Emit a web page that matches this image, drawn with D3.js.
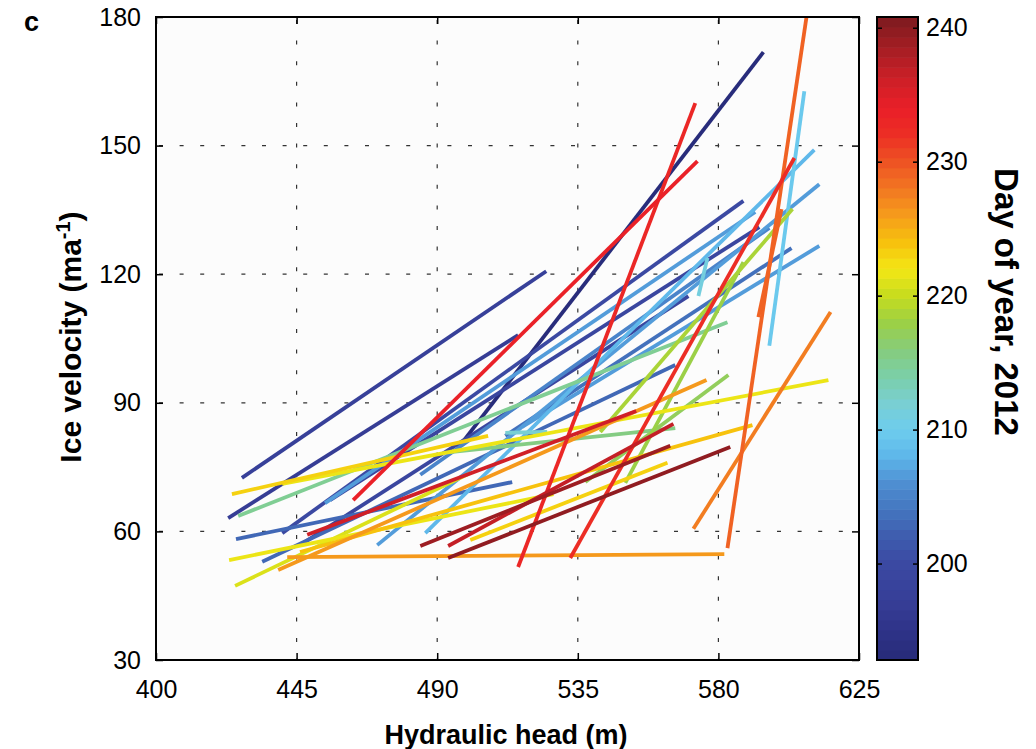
<!DOCTYPE html>
<html><head><meta charset="utf-8">
<script src="https://cdn.jsdelivr.net/npm/d3@7"></script>
<style>body{margin:0;background:#fff;} text{font-family:"Liberation Sans",Arial,Helvetica,sans-serif;fill:#000;}</style>
</head><body><svg id="chart" width="1036" height="749"></svg>
<script>
// ---- data (hydraulic head m, ice velocity m/a, day of year) ----
const headStart = [427.5,423.1,496.7,515.9,463.1,532.6,582.9,592.8,596.3,486.2,470.8,517.2,511.8,542.2,550.2,572.0,442.0,440.4,424.3,446.1,439.1,500.6,423.4,448.4,484.6,493.5,493.5,425.3,426.3,494.2,537.4,440.4,454.1,425.6,455.7,446.1,434.0,573.6,511.8,484.6];
const velStart  = [72.5,63.1,79.5,51.7,67.3,53.8,56.1,110.0,103.3,59.6,56.8,84.4,82.3,83.2,71.3,60.6,54.0,71.1,68.7,55.2,51.0,58.0,53.3,59.2,56.6,53.8,56.6,47.3,63.6,78.5,71.5,59.6,66.6,58.2,67.3,56.8,52.9,114.9,83.0,73.2];
const headEnd   = [524.9,515.9,594.4,572.6,573.3,604.3,608.2,600.2,607.5,610.7,612.3,612.3,603.4,603.7,588.0,615.9,581.9,615.2,506.3,590.9,576.2,563.7,527.2,553.7,564.6,583.8,565.6,500.6,582.9,566.2,583.2,588.0,591.8,514.0,593.1,570.4,566.2,576.5,525.2,596.3];
const velEnd    = [120.7,105.8,171.8,159.9,146.4,147.1,180.0,135.2,162.7,149.0,141.0,126.6,126.1,135.2,122.8,111.2,54.7,95.3,82.3,84.8,95.3,76.0,68.7,88.1,80.0,79.7,85.1,73.6,108.8,84.1,96.5,137.1,134.5,71.5,131.0,114.9,98.8,123.8,83.2,130.8];
const dayOfYear = [198,197,193,233,234,232,229,229,210,208,207,207,204,219,218,228,226,222,223,224,226,223,222,236,239,240,237,221,215,216,217,200,207,203,199,199,203,211,212,205];

const xTicks = [400,445,490,535,580,625];
const yTicks = [30,60,90,120,150,180];
const cTicks = [200,210,220,230,240];
const xGrid = [445,490,535,580];
const yGrid = [60,90,120,150];

// colormap anchors (day -> colour)
const cmapDays   = [192.8,195,197,200,202,204,206,208,210,212,214,216,218,220,222,224,226,228,230,232,234,236,238,240.8];
const cmapColors = ["#272a78","#2e3388","#363d96","#3b49a2","#3e5cae","#4475bf","#4e8fd2","#5eb6ea","#6dcdee","#79cfd2","#7bcfa8","#86cc7c","#9cd045","#c6dc1e","#f3e715","#f7c10d","#f59c1b","#f27722","#ee5323","#ec2e25","#ea1f28","#cf1f27","#ad1e24","#7c1a1f"];

// ---- layout ----
const L=156,R=859,T=17,B=660;
const svg=d3.select("#chart");
const x=d3.scaleLinear().domain([400,625]).range([L,R]);
const y=d3.scaleLinear().domain([30,180]).range([B,T]);
const cDom=[192.8,240.8];
const cy=d3.scaleLinear().domain(cDom).range([B,T]);
const cont=d3.scaleLinear().domain(cmapDays).range(cmapColors).interpolate(d3.interpolateRgb).clamp(true);
const N=64;
const levelColor=i=>cont(cDom[0]+(i+0.5)*(cDom[1]-cDom[0])/N);
const colorOf=d=>{let i=Math.floor((d-cDom[0])/(cDom[1]-cDom[0])*N);i=Math.max(0,Math.min(N-1,i));return levelColor(i);};

svg.append("rect").attr("x",L).attr("y",T).attr("width",R-L).attr("height",B-T).attr("fill","#fcfcfc");

// grid
const dash="4,16.6";
svg.append("g").selectAll("line").data(xGrid).join("line")
  .attr("x1",d=>x(d)).attr("x2",d=>x(d)).attr("y1",T+3).attr("y2",B)
  .attr("stroke","#333").attr("stroke-width",1.2).attr("stroke-dasharray",dash);
svg.append("g").selectAll("line").data(yGrid).join("line")
  .attr("y1",d=>y(d)).attr("y2",d=>y(d)).attr("x1",L+3).attr("x2",R)
  .attr("stroke","#333").attr("stroke-width",1.2).attr("stroke-dasharray",dash);

// segments
const segs=headStart.map((h,i)=>({x1:h,y1:velStart[i],x2:headEnd[i],y2:velEnd[i],day:dayOfYear[i]}))
  .sort((a,b)=>a.day-b.day);
svg.append("defs").append("clipPath").attr("id","clip").append("rect")
  .attr("x",L).attr("y",T).attr("width",R-L).attr("height",B-T);
svg.append("g").attr("clip-path","url(#clip)").selectAll("line").data(segs).join("line")
  .attr("x1",d=>x(d.x1)).attr("y1",d=>y(d.y1)).attr("x2",d=>x(d.x2)).attr("y2",d=>y(d.y2))
  .attr("stroke",d=>colorOf(d.day)).attr("stroke-width",3.8);

// axes
const fs=25;
const ax=svg.append("g").attr("transform",`translate(0,${B})`)
  .call(d3.axisBottom(x).tickValues(xTicks).tickSizeInner(-7).tickSizeOuter(0).tickPadding(20));
const ay=svg.append("g").attr("transform",`translate(${L},0)`)
  .call(d3.axisLeft(y).tickValues(yTicks).tickSizeInner(-7).tickSizeOuter(0).tickPadding(15));
const at=svg.append("g").attr("transform",`translate(0,${T})`)
  .call(d3.axisTop(x).tickValues(xTicks).tickSizeInner(-7).tickSizeOuter(0).tickFormat(""));
const ar=svg.append("g").attr("transform",`translate(${R},0)`)
  .call(d3.axisRight(y).tickValues(yTicks).tickSizeInner(-7).tickSizeOuter(0).tickFormat(""));
[ax,ay,at,ar].forEach(g=>{g.select(".domain").remove();g.selectAll(".tick line").attr("stroke","#000").attr("stroke-width",1.5);
  g.selectAll("text").attr("font-size",fs).attr("font-family","Liberation Sans, Arial, sans-serif").attr("fill","#000");});
svg.append("rect").attr("x",L).attr("y",T).attr("width",R-L).attr("height",B-T)
  .attr("fill","none").attr("stroke","#000").attr("stroke-width",2);

// colorbar
const CL=877,CR=918;
const lv=d3.range(N);
svg.append("g").selectAll("rect").data(lv).join("rect")
  .attr("x",CL).attr("width",CR-CL)
  .attr("y",i=>cy(cDom[0]+(i+1)*(cDom[1]-cDom[0])/N))
  .attr("height",(B-T)/N+0.6)
  .attr("fill",i=>levelColor(i));
const cbR=svg.append("g").attr("transform",`translate(${CR},0)`)
  .call(d3.axisRight(cy).tickValues(cTicks).tickSizeInner(-5).tickSizeOuter(0).tickPadding(8));
const cbL=svg.append("g").attr("transform",`translate(${CL},0)`)
  .call(d3.axisLeft(cy).tickValues(cTicks).tickSizeInner(-5).tickSizeOuter(0).tickFormat(""));
[cbR,cbL].forEach(g=>{g.select(".domain").remove();g.selectAll(".tick line").attr("stroke","#000").attr("stroke-width",1.5);
  g.selectAll("text").attr("font-size",fs).attr("font-family","Liberation Sans, Arial, sans-serif").attr("fill","#000");});
svg.append("rect").attr("x",CL).attr("y",T).attr("width",CR-CL).attr("height",B-T)
  .attr("fill","none").attr("stroke","#000").attr("stroke-width",2);

// titles
svg.append("text").attr("x",506).attr("y",744).attr("text-anchor","middle")
  .attr("font-size",27).attr("font-weight","bold").text("Hydraulic head (m)");
const yt=svg.append("text").attr("transform","translate(81,337) rotate(-90)").attr("text-anchor","middle")
  .attr("font-size",30).attr("font-weight","bold");
yt.append("tspan").text("Ice velocity (ma");
yt.append("tspan").attr("dy",-11).attr("font-size",20).text("-1");
yt.append("tspan").attr("dy",11).text(")");
svg.append("text").attr("transform","translate(995,302) rotate(90)").attr("text-anchor","middle")
  .attr("font-size",33).attr("font-weight","bold").text("Day of year, 2012");
svg.append("text").attr("x",24).attr("y",31).attr("font-size",27).attr("font-weight","bold").text("c");
</script></body></html>
